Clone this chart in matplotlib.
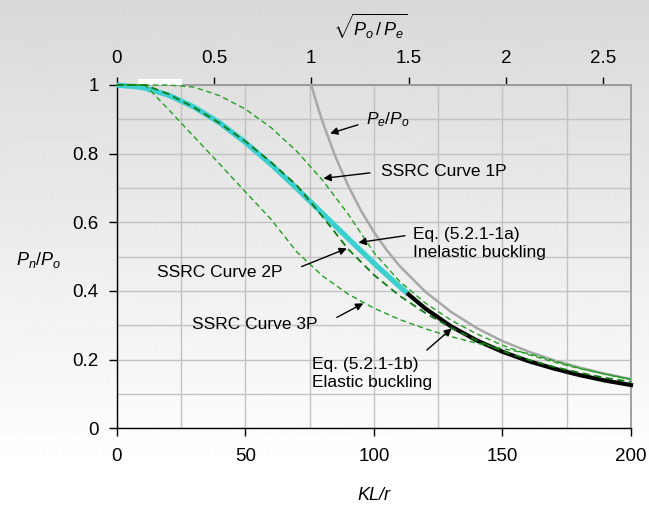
import matplotlib
matplotlib.use("Agg")
import matplotlib.pyplot as plt
import numpy as np
from matplotlib.ticker import MultipleLocator, FixedLocator

plt.rcParams["font.family"] = ["Liberation Sans", "DejaVu Sans"]
plt.rcParams["mathtext.fontset"] = "custom"
plt.rcParams["mathtext.rm"] = "Liberation Sans"
plt.rcParams["mathtext.it"] = "Liberation Sans:italic"

# slenderness where Po/Pe = 1 (top axis scale)
KLR_AT_LAMBDA_1 = 75.66

# values
KLR = [0, 11, 20, 30, 40, 50, 60, 70, 80, 90, 100, 110, 120, 130, 140, 150, 160, 170, 180, 190, 200]
SSRC_1P = [1.000, 1.000, 1.000, 0.994, 0.969, 0.930, 0.876, 0.807, 0.723, 0.624, 0.512, 0.428,
           0.365, 0.315, 0.275, 0.242, 0.215, 0.193, 0.174, 0.158, 0.143]
SSRC_2P = [1.000, 1.000, 0.974, 0.935, 0.889, 0.836, 0.775, 0.708, 0.617, 0.522, 0.447, 0.386,
           0.336, 0.293, 0.256, 0.225, 0.200, 0.179, 0.162, 0.147, 0.135]
SSRC_3P = [1.000, 1.000, 0.930, 0.850, 0.770, 0.689, 0.609, 0.514, 0.444, 0.391, 0.350, 0.317,
           0.290, 0.267, 0.248, 0.232, 0.218, 0.197, 0.175, 0.157, 0.142]

INELASTIC_KLR = [0, 10, 20, 30, 40, 50, 60, 70, 80, 90, 100, 110, 113.5]
INELASTIC = [1.000, 0.993, 0.971, 0.936, 0.890, 0.833, 0.769, 0.699, 0.626, 0.553, 0.481, 0.413, 0.390]

ELASTIC_KLR = [113.5, 120, 130, 140, 150, 160, 170, 180, 190, 200]
ELASTIC = [0.390, 0.349, 0.297, 0.256, 0.223, 0.196, 0.174, 0.155, 0.139, 0.126]

EULER_KLR = [75.66, 78, 80, 85, 90, 95, 100, 105, 110, 120, 130, 140, 150, 160, 170, 180, 190, 200]
EULER = [1.000, 0.941, 0.894, 0.792, 0.707, 0.634, 0.572, 0.519, 0.473, 0.398, 0.339, 0.292,
         0.254, 0.224, 0.198, 0.177, 0.159, 0.143]

TOP_TICKS = [0, 0.5, 1, 1.5, 2, 2.5]
TOP_LABELS = ["0", "0.5", "1", "1.5", "2", "2.5"]
X_TICKS = [0, 50, 100, 150, 200]
Y_TICKS = [0, 0.2, 0.4, 0.6, 0.8, 1.0]
Y_LABELS = ["0", "0.2", "0.4", "0.6", "0.8", "1"]

CYAN = "#3ccfcf"
GREEN = "#23a023"
DARK_GREEN = "#127a12"
GRAY = "#a8a8a8"

W, H = 649, 508
fig = plt.figure(figsize=(W / 100, H / 100), dpi=100)

# background gradient, light grey at top fading to white near the bottom
bg = fig.add_axes([0, 0, 1, 1], zorder=-10)
rows = np.arange(H)
shade = np.clip(217 + 38 * rows / 470, 0, 255) / 255
bg.imshow(np.repeat(shade[:, None], 2, axis=1), cmap="gray", vmin=0, vmax=1,
          aspect="auto", extent=[0, 1, 0, 1], interpolation="bilinear")
bg.set_axis_off()

ax = fig.add_axes([116.7 / W, (H - 428.3) / H, (631 - 116.7) / W, (428.3 - 85) / H])
ax.patch.set_alpha(0)

ax.set_xlim(0, 200)
ax.set_ylim(0, 1)
ax.xaxis.set_major_locator(FixedLocator(X_TICKS))
ax.xaxis.set_minor_locator(MultipleLocator(25))
ax.yaxis.set_major_locator(FixedLocator(Y_TICKS))
ax.yaxis.set_minor_locator(MultipleLocator(0.1))
ax.set_xticklabels([str(t) for t in X_TICKS])
ax.set_yticklabels(Y_LABELS)
ax.grid(True, which="both", color="#c2c2c2", lw=1, zorder=0)
ax.set_axisbelow(True)
ax.tick_params(which="minor", length=0)
ax.tick_params(axis="x", which="major", direction="out", length=6, width=1, pad=8, labelsize=13.5)
ax.tick_params(axis="y", which="major", direction="out", length=6, width=1, pad=7, labelsize=13.5)

for s in ("left", "bottom"):
    ax.spines[s].set_color("black")
    ax.spines[s].set_linewidth(1)
for s in ("top", "right"):
    ax.spines[s].set_color("#9a9a9a")
    ax.spines[s].set_linewidth(1.3)

sec = ax.secondary_xaxis("top", functions=(lambda x: x / KLR_AT_LAMBDA_1,
                                           lambda l: l * KLR_AT_LAMBDA_1))
sec.set_xticks(TOP_TICKS)
sec.set_xticklabels(TOP_LABELS)
sec.tick_params(direction="out", length=6, width=1, pad=7, labelsize=13.5)
sec.spines["top"].set_color("#9a9a9a")
sec.spines["top"].set_linewidth(1.3)

# white patch over the top edge near KL/r 8-25
ax.plot([8.3, 25.4], [1.008, 1.008], color="white", lw=4.5, solid_capstyle="butt",
        clip_on=False, zorder=3)

ax.plot(EULER_KLR, EULER, color=GRAY, lw=1.8, zorder=4, clip_on=False)
ax.plot(INELASTIC_KLR, INELASTIC, color=CYAN, lw=3.8, zorder=5, clip_on=False,
        solid_capstyle="butt")
ax.plot(ELASTIC_KLR, ELASTIC, color="black", lw=3.0, zorder=5, clip_on=False)
ax.plot(KLR, SSRC_1P, color=GREEN, lw=1.0, dashes=(4, 2.5), zorder=6, clip_on=False)
ax.plot(KLR, SSRC_3P, color=GREEN, lw=1.0, dashes=(4, 2.5), zorder=6, clip_on=False)
ax.plot(KLR, SSRC_2P, color=DARK_GREEN, lw=1.3, dashes=(4, 2.5), zorder=6, clip_on=False)

arrow = dict(arrowstyle="-|>", color="black", lw=1.0, mutation_scale=11, shrinkA=0, shrinkB=0)
notes = [
    (r"$P_e/P_o$", (96.9, 0.898), (93.8, 0.884), (83.0, 0.859)),
    ("SSRC Curve 1P", (102.8, 0.747), (98.5, 0.744), (80.4, 0.728)),
    ("Eq. (5.2.1-1a)\nInelastic buckling", (115.2, 0.537), (112.1, 0.561), (94.0, 0.541)),
    ("SSRC Curve 2P", (15.7, 0.455), (71.9, 0.471), (89.5, 0.524)),
    ("SSRC Curve 3P", (29.3, 0.301), (85.6, 0.323), (95.9, 0.364)),
    ("Eq. (5.2.1-1b)\nElastic buckling", (76.0, 0.160), (120.6, 0.228), (130.3, 0.291)),
]
for text, tpos, tail, tip in notes:
    ax.text(tpos[0], tpos[1], text, fontsize=12.5, ha="left", va="center", linespacing=1.25,
            zorder=8)
    ax.annotate("", xy=tip, xytext=tail, arrowprops=arrow, zorder=8)

fig.text(39 / W, 1 - 260 / H, r"$P_n/P_o$", fontsize=13, ha="center", va="center")
fig.text(374 / W, 1 - 495 / H, "KL/r", fontsize=13, style="italic", ha="center", va="center")
fig.text(370 / W, 1 - 26 / H, r"$\sqrt{P_o\,/\,P_e}$", fontsize=13, ha="center", va="center")

fig.savefig("out.png", dpi=100)
